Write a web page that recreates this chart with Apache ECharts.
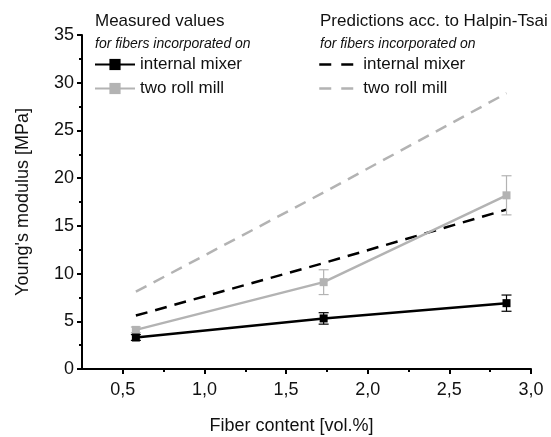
<!DOCTYPE html>
<html>
<head>
<meta charset="utf-8">
<title>Young's modulus vs fiber content</title>
<script src="https://cdn.jsdelivr.net/npm/echarts@6/dist/echarts.min.js"></script>
<style>
  html, body { margin: 0; padding: 0; background: #fff; }
  #chart { width: 551px; height: 437px; }
</style>
</head>
<body>
<div id="chart"></div>
<script>
// fiber content [vol.%]
const fiberContent = [0.58, 1.73, 2.85]
// measured Young's modulus [MPa] and error (half bar)
const mixerMeasured = [3.3, 5.3, 6.9]
const mixerError = [0.3, 0.6, 0.85]
const millMeasured = [4.1, 9.1, 18.2]
const millError = [0.3, 1.3, 2.05]
// Halpin-Tsai predictions
const mixerPredicted = [5.6, 11.1, 16.7]
const millPredicted = [8.1, 18.5, 28.9]
// axis ticks
const xMajorTicks = [0.5, 1.0, 1.5, 2.0, 2.5, 3.0]
const xMinorTicks = [0.75, 1.25, 1.75, 2.25, 2.75]

const FONT = '"Liberation Sans", Arial, sans-serif'
const BLACK = '#000'
const GREY = '#b3b3b3'

const pairs = (ys) => fiberContent.map((x, i) => [x, ys[i]])
const errRows = (ys, err) => fiberContent.map((x, i) => [x, ys[i] - err[i], ys[i] + err[i]])

function errorBars(color) {
  return function (params, api) {
    const lo = api.coord([api.value(0), api.value(1)])
    const hi = api.coord([api.value(0), api.value(2)])
    const w = 5
    const style = { stroke: color, lineWidth: 1.2 }
    return {
      type: 'group',
      children: [
        { type: 'line', shape: { x1: lo[0], y1: lo[1], x2: hi[0], y2: hi[1] }, style },
        { type: 'line', shape: { x1: lo[0] - w, y1: lo[1], x2: lo[0] + w, y2: lo[1] }, style },
        { type: 'line', shape: { x1: hi[0] - w, y1: hi[1], x2: hi[0] + w, y2: hi[1] }, style }
      ]
    }
  }
}

const chart = echarts.init(document.getElementById('chart'))
chart.setOption({
  backgroundColor: '#fff',
  animation: false,
  textStyle: { fontFamily: FONT },
  grid: { left: 82, right: 20, top: 35, bottom: 68, outerBoundsMode: 'none' },
  graphic: [
    { type: 'text', left: 95, top: 13, style: { text: 'Measured values', font: '17px ' + FONT, fill: '#111' } },
    { type: 'text', left: 95, top: 37, style: { text: 'for fibers incorporated on', font: 'italic 14px ' + FONT, fill: '#111' } },
    { type: 'text', left: 320, top: 13, style: { text: 'Predictions acc. to Halpin-Tsai', font: '17px ' + FONT, fill: '#111' } },
    { type: 'text', left: 320, top: 37, style: { text: 'for fibers incorporated on', font: 'italic 14px ' + FONT, fill: '#111' } }
  ],
  legend: [
    {
      data: ['Measured: internal mixer', 'Measured: two roll mill'],
      orient: 'vertical',
      left: 94,
      top: 56,
      itemWidth: 40,
      itemHeight: 14,
      itemGap: 7,
      padding: 0,
      formatter: (name) => name.split(': ')[1],
      textStyle: { fontSize: 17, color: '#111', fontFamily: FONT }
    },
    {
      data: ['Predicted: internal mixer', 'Predicted: two roll mill'],
      orient: 'vertical',
      left: 318,
      top: 56,
      itemWidth: 34,
      itemHeight: 14,
      itemGap: 7,
      padding: 0,
      itemStyle: { opacity: 0 },
      lineStyle: { type: [12, 10], width: 2.5 },
      formatter: (name) => name.split(': ')[1],
      textStyle: { fontSize: 17, color: '#111', fontFamily: FONT, padding: [0, 0, 0, 5] }
    }
  ],
  xAxis: [
    {
      type: 'value',
      min: 0.25,
      max: 3.0,
      name: 'Fiber content [vol.%]',
      nameLocation: 'middle',
      nameGap: 48,
      nameTextStyle: { fontSize: 18, color: '#111', fontFamily: FONT, padding: [0, 30, 0, 0] },
      axisLine: { lineStyle: { color: BLACK, width: 2 } },
      axisTick: { customValues: xMajorTicks, length: 5, lineStyle: { color: BLACK, width: 2 } },
      axisLabel: {
        customValues: xMajorTicks,
        margin: 12,
        fontSize: 18,
        color: '#111',
        formatter: (v) => v.toFixed(1).replace('.', ',')
      },
      splitLine: { show: false }
    },
    {
      type: 'value',
      position: 'bottom',
      min: 0.25,
      max: 3.0,
      axisLine: { show: false },
      axisTick: { customValues: xMinorTicks, length: 3, lineStyle: { color: BLACK, width: 2 } },
      axisLabel: { show: false },
      splitLine: { show: false }
    }
  ],
  yAxis: {
    type: 'value',
    min: 0,
    max: 35,
    interval: 5,
    name: "Young's modulus [MPa]",
    nameLocation: 'middle',
    nameGap: 50,
    nameTextStyle: { fontSize: 18, color: '#111', fontFamily: FONT },
    axisLine: { show: true, lineStyle: { color: BLACK, width: 2 } },
    axisTick: { show: true, length: 5, lineStyle: { color: BLACK, width: 2 } },
    minorTick: { show: true, splitNumber: 2, length: 3, lineStyle: { color: BLACK, width: 2 } },
    axisLabel: { margin: 8, fontSize: 18, color: '#111' },
    splitLine: { show: false }
  },
  series: [
    {
      name: 'Predicted: two roll mill',
      type: 'line',
      data: pairs(millPredicted),
      symbol: 'none',
      lineStyle: { color: GREY, width: 2.5, type: [12, 8] },
      itemStyle: { color: GREY },
      z: 2
    },
    {
      name: 'Predicted: internal mixer',
      type: 'line',
      data: pairs(mixerPredicted),
      symbol: 'none',
      lineStyle: { color: BLACK, width: 2.5, type: [12, 8] },
      itemStyle: { color: BLACK },
      z: 3
    },
    {
      type: 'custom',
      renderItem: errorBars(GREY),
      data: errRows(millMeasured, millError),
      encode: { x: 0, y: [1, 2] },
      z: 4
    },
    {
      name: 'Measured: two roll mill',
      type: 'line',
      data: pairs(millMeasured),
      symbol: 'rect',
      symbolSize: 8,
      lineStyle: { color: GREY, width: 2.5 },
      itemStyle: { color: GREY },
      z: 5
    },
    {
      type: 'custom',
      renderItem: errorBars(BLACK),
      data: errRows(mixerMeasured, mixerError),
      encode: { x: 0, y: [1, 2] },
      z: 6
    },
    {
      name: 'Measured: internal mixer',
      type: 'line',
      data: pairs(mixerMeasured),
      symbol: 'rect',
      symbolSize: 8,
      lineStyle: { color: BLACK, width: 2.5 },
      itemStyle: { color: BLACK },
      z: 7
    }
  ]
})
</script>
</body>
</html>
